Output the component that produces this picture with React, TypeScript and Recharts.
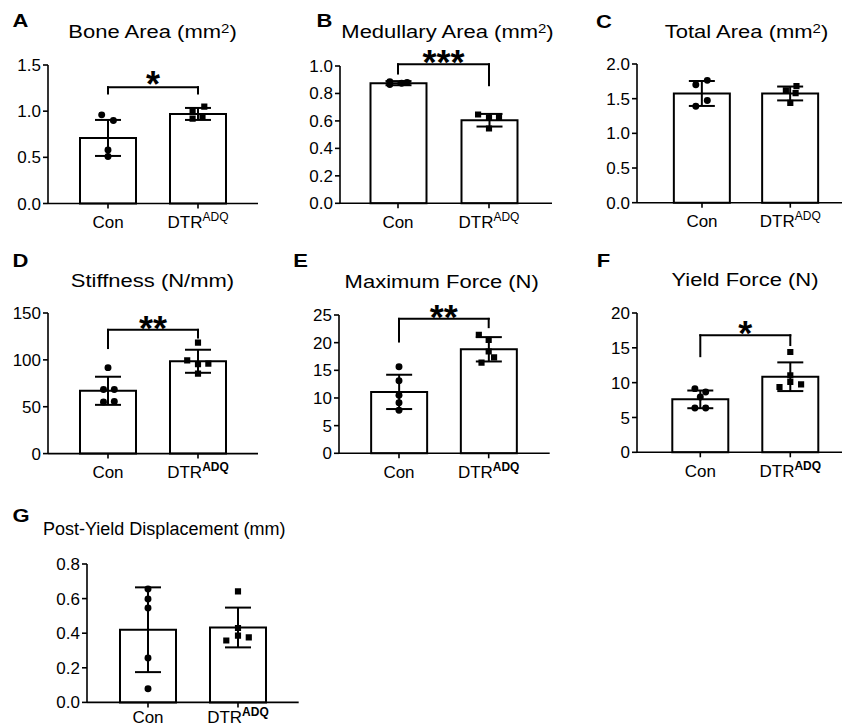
import React from 'react'
import { ComposedChart, Bar, ErrorBar, Scatter, XAxis, YAxis, ZAxis, ReferenceLine } from 'recharts'

const FONT = '"Liberation Sans", Arial, Helvetica, sans-serif'

const categories = ['Con', 'DTR']
const categorySup = ['', 'ADQ']

// A - bone area
const boneMeans = [0.71, 0.97]
const boneSd = [0.195, 0.065]
const boneCon = [0.96, 0.9, 0.58, 0.51]
const boneConJitter = [-0.07, 0.06, 0, 0]
const boneDtr = [1.0, 1.05, 0.94, 0.92]
const boneDtrJitter = [-0.06, 0.07, 0.05, -0.06]
const boneTicks = [0, 0.5, 1, 1.5]
const boneBracket = [1.26, 1.19, 1.19]

// B - medullary area
const medMeans = [0.875, 0.605]
const medSd = [0.015, 0.046]
const medCon = [0.885, 0.865, 0.875, 0.88]
const medConJitter = [-0.09, -0.09, 0.04, 0.1]
const medDtr = [0.647, 0.625, 0.63, 0.545]
const medDtrJitter = [-0.12, 0, 0.11, 0]
const medTicks = [0, 0.2, 0.4, 0.6, 0.8, 1.0]
const medBracket = [1.012, 0.945, 0.86]

// C - total area
const totalMeans = [1.575, 1.575]
const totalSd = [0.18, 0.1]
const totalCon = [1.7, 1.764, 1.475, 1.39]
const totalConJitter = [-0.07, 0.06, 0.06, -0.07]
const totalDtr = [1.62, 1.68, 1.58, 1.44]
const totalDtrJitter = [-0.05, 0.07, 0.06, 0]
const totalTicks = [0, 0.5, 1, 1.5, 2]

// D - stiffness
const stiffMeans = [67, 98.5]
const stiffSd = [15, 12.3]
const stiffCon = [91.7, 68.3, 68.3, 55, 55.7]
const stiffConJitter = [0, -0.05, 0.07, -0.05, 0.07]
const stiffDtr = [118.4, 99.5, 95.3, 96, 85.3]
const stiffDtrJitter = [0, -0.12, 0, 0.115, 0]
const stiffTicks = [0, 50, 100, 150]
const stiffBracket = [132, 112.6, 123.8]

// E - maximum force
const maxMeans = [11.1, 18.8]
const maxSd = [3.1, 2.2]
const maxCon = [15.65, 13.1, 10.5, 9.15, 7.8]
const maxConJitter = [0, 0, 0, 0, 0]
const maxDtr = [21.4, 20.5, 18.4, 17.35, 16.4]
const maxDtrJitter = [-0.11, 0, 0, 0.06, -0.08]
const maxTicks = [0, 5, 10, 15, 20, 25]
const maxBracket = [24.3, 20.2, 22.8]

// F - yield force
const yieldMeans = [7.6, 10.85]
const yieldSd = [1.27, 2.06]
const yieldCon = [9.14, 8.66, 7.94, 6.36, 6.36]
const yieldConJitter = [-0.06, 0.06, 0, -0.06, 0.06]
const yieldDtr = [14.4, 11.06, 10.1, 9.38, 9.76]
const yieldDtrJitter = [0, 0, 0, -0.12, 0.12]
const yieldTicks = [0, 5, 10, 15, 20]
const yieldBracket = [16.8, 13.8, 15.4]

// G - post-yield displacement
const pydMeans = [0.42, 0.433]
const pydSd = [0.245, 0.115]
const pydCon = [0.655, 0.598, 0.546, 0.257, 0.079]
const pydConJitter = [0, 0, 0, 0, 0]
const pydDtr = [0.642, 0.43, 0.386, 0.358, 0.376]
const pydDtrJitter = [0, 0, 0, -0.13, 0.12]
const pydTicks = [0, 0.2, 0.4, 0.6, 0.8]

const panels = [
  { letter: 'A', title: 'Bone Area (mm', sup: '2', end: ')', means: boneMeans, sd: boneSd, con: boneCon, conX: boneConJitter, dtr: boneDtr, dtrX: boneDtrJitter, ticks: boneTicks, bracket: boneBracket, stars: '*', decimals: 1, boldSup: false },
  { letter: 'B', title: 'Medullary Area (mm', sup: '2', end: ')', means: medMeans, sd: medSd, con: medCon, conX: medConJitter, dtr: medDtr, dtrX: medDtrJitter, ticks: medTicks, bracket: medBracket, stars: '***', decimals: 1, boldSup: false },
  { letter: 'C', title: 'Total Area (mm', sup: '2', end: ')', means: totalMeans, sd: totalSd, con: totalCon, conX: totalConJitter, dtr: totalDtr, dtrX: totalDtrJitter, ticks: totalTicks, bracket: null, stars: '', decimals: 1, boldSup: false },
  { letter: 'D', title: 'Stiffness (N/mm)', sup: '', end: '', means: stiffMeans, sd: stiffSd, con: stiffCon, conX: stiffConJitter, dtr: stiffDtr, dtrX: stiffDtrJitter, ticks: stiffTicks, bracket: stiffBracket, stars: '**', decimals: 0, boldSup: true },
  { letter: 'E', title: 'Maximum Force (N)', sup: '', end: '', means: maxMeans, sd: maxSd, con: maxCon, conX: maxConJitter, dtr: maxDtr, dtrX: maxDtrJitter, ticks: maxTicks, bracket: maxBracket, stars: '**', decimals: 0, boldSup: true },
  { letter: 'F', title: 'Yield Force (N)', sup: '', end: '', means: yieldMeans, sd: yieldSd, con: yieldCon, conX: yieldConJitter, dtr: yieldDtr, dtrX: yieldDtrJitter, ticks: yieldTicks, bracket: yieldBracket, stars: '*', decimals: 0, boldSup: true },
  { letter: 'G', title: 'Post-Yield Displacement (mm)', sup: '', end: '', means: pydMeans, sd: pydSd, con: pydCon, conX: pydConJitter, dtr: pydDtr, dtrX: pydDtrJitter, ticks: pydTicks, bracket: null, stars: '', decimals: 1, boldSup: true },
]

// plot boxes (page px) and text anchors for each panel
const layouts = [
  { left: 48, top: 64.5, bottom: 203, right: 258, con: 108, dtr: 198, catDy: 17.5, lx: 12.5, ly: 27.3, tx: 152.5, ty: 38, tSize: 22, tSy: 0.85, tAnchor: 'middle' },
  { left: 340, top: 66, bottom: 203.3, right: 552, con: 398, dtr: 489, catDy: 17.5, lx: 316.5, ly: 26.7, tx: 447.5, ty: 37.7, tSize: 22, tSy: 0.85, tAnchor: 'middle' },
  { left: 636.7, top: 64.3, bottom: 203, right: 842, con: 701.7, dtr: 790, catDy: 17.5, lx: 596, ly: 28.3, tx: 746.5, ty: 37.7, tSize: 22, tSy: 0.85, tAnchor: 'middle' },
  { left: 48, top: 312.7, bottom: 453.3, right: 258, con: 108, dtr: 198, catDy: 17.5, lx: 12.5, ly: 267.3, tx: 152.5, ty: 286.7, tSize: 22, tSy: 0.85, tAnchor: 'middle' },
  { left: 339.3, top: 315, bottom: 453.3, right: 550, con: 399.3, dtr: 489, catDy: 17.5, lx: 293.3, ly: 267.3, tx: 441.7, ty: 287.7, tSize: 22, tSy: 0.85, tAnchor: 'middle' },
  { left: 636.7, top: 312.7, bottom: 452, right: 842, con: 700, dtr: 790, catDy: 17.5, lx: 596.7, ly: 266.7, tx: 745, ty: 285.7, tSize: 22, tSy: 0.85, tAnchor: 'middle' },
  { left: 87.3, top: 564.3, bottom: 702.7, right: 299, con: 148.3, dtr: 238.3, catDy: 14, lx: 12.5, ly: 521.7, tx: 43, ty: 535, tSize: 18, tSy: 1, tAnchor: 'start' },
]

const axisStyle = { stroke: '#000', strokeWidth: 1.6 }

const CatTick = (props: any) => {
  const { x, y, payload, boldSup, dy } = props
  const i = Math.round(payload.value)
  return (
    <text x={x} y={y + dy} textAnchor="middle" fontSize={17} fontFamily={FONT} fill="#000">
      {categories[i]}
      {categorySup[i] && (
        <tspan dy={-7} fontSize={12} fontWeight={boldSup ? 700 : 400}>{categorySup[i]}</tspan>
      )}
    </text>
  )
}

const StarLabel = (props: any) => {
  const { viewBox, text } = props
  if (!viewBox) return null
  return (
    <text x={viewBox.x + viewBox.width / 2} y={viewBox.y + 10} textAnchor="middle" fontSize={36} fontWeight={700} fontFamily={FONT} fill="#000">
      {text}
    </text>
  )
}

function Panel({ p, l }: { p: any; l: any }) {
  const yw = 46
  const mt = 40
  const mr = 2
  const xh = 34
  const mb = 2
  const plotW = l.right - l.left
  const plotH = l.bottom - l.top
  const s = l.dtr - l.con
  const lo = -(l.con - l.left) / s
  const hi = (l.right - l.con) / s

  const bars = categories.map((c, i) => ({ x: i, name: c, mean: p.means[i], sd: p.sd[i] }))
  const conPts = p.con.map((v: number, i: number) => ({ x: p.conX[i], y: v }))
  const dtrPts = p.dtr.map((v: number, i: number) => ({ x: 1 + p.dtrX[i], y: v }))
  const b = p.bracket
  const lineProps = { stroke: '#000', strokeWidth: 2, ifOverflow: 'visible' as const, strokeLinecap: 'square' as const }

  return (
    <div style={{ position: 'absolute', left: l.left - yw, top: l.top - mt }}>
      <ComposedChart
        width={yw + plotW + mr}
        height={mt + plotH + xh + mb}
        data={bars}
        margin={{ top: mt, right: mr, bottom: mb, left: 0 }}
      >
        <XAxis
          dataKey="x"
          type="number"
          domain={[lo, hi]}
          ticks={[0, 1]}
          interval={0}
          allowDataOverflow
          height={xh}
          tickSize={5}
          tickMargin={2}
          axisLine={axisStyle}
          tickLine={axisStyle}
          tick={<CatTick boldSup={p.boldSup} dy={l.catDy} />}
        />
        <XAxis xAxisId="pts" dataKey="x" type="number" domain={[lo, hi]} allowDataOverflow hide />
        <YAxis
          type="number"
          domain={[0, p.ticks[p.ticks.length - 1]]}
          ticks={p.ticks}
          interval={0}
          width={yw}
          tickSize={5}
          tickMargin={2}
          axisLine={axisStyle}
          tickLine={axisStyle}
          tick={{ fill: '#000', fontSize: 17, fontFamily: FONT }}
          tickFormatter={(v: number) => v.toFixed(p.decimals)}
        />
        <ZAxis range={[38, 38]} />
        <Bar dataKey="mean" barSize={56} fill="#fff" stroke="#000" strokeWidth={2} isAnimationActive={false}>
          <ErrorBar dataKey="sd" width={13} stroke="#000" strokeWidth={2} direction="y" />
        </Bar>
        <Scatter xAxisId="pts" data={conPts} dataKey="y" shape="circle" fill="#000" isAnimationActive={false} />
        <Scatter xAxisId="pts" data={dtrPts} dataKey="y" shape="square" fill="#000" isAnimationActive={false} />
        {b && (
          <ReferenceLine
            segment={[{ x: 0, y: b[0] }, { x: 1, y: b[0] }]}
            {...lineProps}
            label={(lp: any) => <StarLabel viewBox={lp.viewBox} text={p.stars} />}
          />
        )}
        {b && <ReferenceLine segment={[{ x: 0, y: b[0] }, { x: 0, y: b[1] }]} {...lineProps} />}
        {b && <ReferenceLine segment={[{ x: 1, y: b[0] }, { x: 1, y: b[2] }]} {...lineProps} />}
      </ComposedChart>
    </div>
  )
}

export default function App() {
  return (
    <div
      style={{
        position: 'absolute',
        left: 0,
        top: 0,
        width: 842,
        height: 728,
        background: '#fff',
        overflow: 'hidden',
        fontFamily: FONT,
      }}
    >
      {panels.map((p, i) => (
        <Panel key={p.letter} p={p} l={layouts[i]} />
      ))}
      <svg width={842} height={728} style={{ position: 'absolute', left: 0, top: 0, pointerEvents: 'none' }} fontFamily={FONT}>
        {panels.map((p, i) => {
          const l = layouts[i]
          return (
            <g key={p.letter}>
              <text transform={`translate(${l.lx},${l.ly}) scale(1,0.8)`} fontSize={22} fontWeight={700} fill="#000">
                {p.letter}
              </text>
              <text
                transform={`translate(${l.tx},${l.ty}) scale(1,${l.tSy})`}
                textAnchor={l.tAnchor}
                fontSize={l.tSize}
                fill="#000"
              >
                {p.title}
                {p.sup && (
                  <tspan dy={-6} fontSize={15}>
                    {p.sup}
                  </tspan>
                )}
                {p.end && <tspan dy={6}>{p.end}</tspan>}
              </text>
            </g>
          )
        })}
      </svg>
    </div>
  )
}
